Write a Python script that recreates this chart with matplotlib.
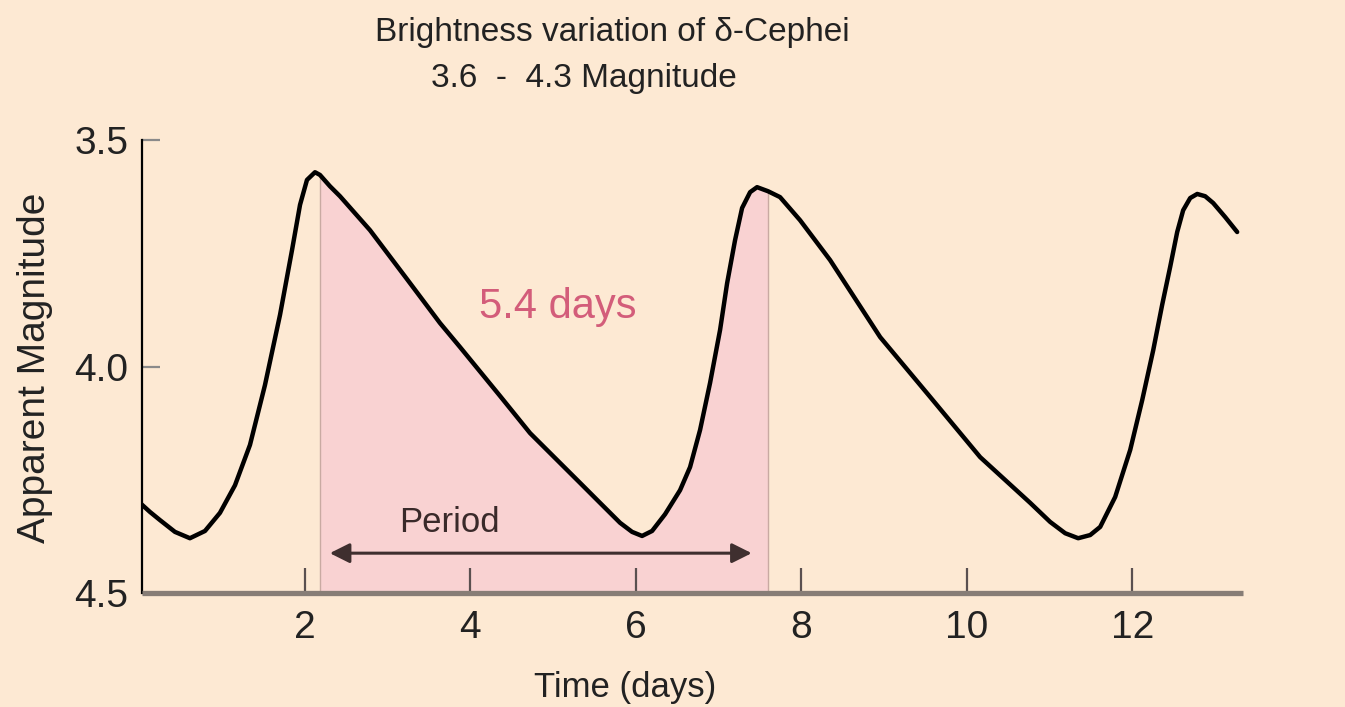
import numpy as np
import matplotlib
matplotlib.use("Agg")
import matplotlib.pyplot as plt

# ---- data ----
time_days = [0.005, 0.126, 0.247, 0.428, 0.609, 0.791, 0.972, 1.154, 1.335, 1.516,
             1.698, 1.843, 1.940, 2.024, 2.121, 2.181, 2.302, 2.423, 2.786, 3.233,
             3.632, 3.874, 4.358, 4.721, 5.326, 5.567, 5.809, 5.954, 6.075, 6.196,
             6.353, 6.534, 6.655, 6.776, 6.897, 7.018, 7.103, 7.199, 7.284, 7.381,
             7.465, 7.598, 7.743, 7.985, 8.348, 8.953, 9.557, 10.162, 10.767, 11.008,
             11.190, 11.347, 11.492, 11.613, 11.794, 11.976, 12.121, 12.254, 12.362,
             12.459, 12.544, 12.616, 12.701, 12.786, 12.882, 12.979, 13.124, 13.269]
magnitude = [4.301, 4.321, 4.339, 4.365, 4.379, 4.363, 4.323, 4.262, 4.173, 4.041,
             3.886, 3.743, 3.643, 3.588, 3.571, 3.577, 3.602, 3.624, 3.699, 3.807,
             3.904, 3.957, 4.065, 4.147, 4.257, 4.301, 4.345, 4.365, 4.374, 4.363,
             4.326, 4.273, 4.222, 4.140, 4.036, 3.919, 3.816, 3.721, 3.650, 3.615,
             3.604, 3.613, 3.626, 3.677, 3.765, 3.935, 4.067, 4.200, 4.301, 4.343,
             4.368, 4.379, 4.372, 4.354, 4.288, 4.184, 4.074, 3.964, 3.864,
             3.780, 3.703, 3.655, 3.628, 3.619, 3.624, 3.639, 3.670, 3.703]
period_start = 2.181
period_end = 7.598
arrow_start = 2.30
arrow_end = 7.40
arrow_level = 4.412
x_ticks = [2, 4, 6, 8, 10, 12]
x_tick_labels = ["2", "4", "6", "8", "10", "12"]
y_ticks = [3.5, 4.0, 4.5]
y_tick_labels = ["3.5", "4.0", "4.5"]
title_line1 = "Brightness variation of \u03b4-Cephei"
title_line2 = "3.6  -  4.3 Magnitude"
period_label = "Period"
period_value_label = "5.4 days"
x_label = "Time (days)"
y_label = "Apparent Magnitude"

bg = "#fde9d3"
pink = "#f9d2d2"
font = ["Liberation Sans", "DejaVu Sans"]

t = np.array(time_days)
m = np.array(magnitude)

fig = plt.figure(figsize=(13.45, 7.07), dpi=100, facecolor=bg)
ax = fig.add_axes([0.1056, 0.1612, 0.8186, 0.6407])
ax.set_facecolor(bg)

# shaded period
mask = (t >= period_start) & (t <= period_end)
ax.fill_between(t[mask], m[mask], 4.5, color=pink, lw=0, zorder=1)
ax.vlines([t[mask][0], t[mask][-1]], [m[mask][0], m[mask][-1]], 4.5,
          color="#c9aaa2", lw=1.0, zorder=2)

# light curve
ax.plot(t, m, color="black", lw=3.2, solid_joinstyle="round",
        solid_capstyle="round", zorder=4)

# period arrow
ax.annotate("", xy=(arrow_start, arrow_level), xytext=(arrow_end, arrow_level),
            arrowprops=dict(arrowstyle="<|-|>", color="#3f2f2f", lw=2.2,
                            mutation_scale=30, shrinkA=0, shrinkB=0), zorder=3)
ax.text(3.75, 4.345, period_label, fontsize=25, ha="center", va="center",
        color="#3a2a2a", family=font, zorder=5)
ax.text(5.06, 3.869, period_value_label, fontsize=30, ha="center", va="center",
        color="#d35d7a", family=font, zorder=5)

ax.set_xlim(0.03, 13.34)
ax.set_ylim(4.5, 3.5)

ax.set_xticks(x_ticks)
ax.set_xticklabels(x_tick_labels, family=font)
ax.set_yticks(y_ticks)
ax.set_yticklabels(y_tick_labels, family=font)
ax.tick_params(axis="x", direction="in", length=18, width=1.6, color="#5a5050",
               pad=12, labelsize=28, labelcolor="#222222")
ax.tick_params(axis="y", direction="in", length=13, width=1.6, color="#8a8a8a",
               pad=10, labelsize=28, labelcolor="#222222")

for s in ["top", "right"]:
    ax.spines[s].set_visible(False)
ax.spines["left"].set_color("black")
ax.spines["left"].set_linewidth(1.6)
ax.spines["bottom"].set_color("#877d76")
ax.spines["bottom"].set_linewidth(3.8)
ax.spines["bottom"].set_capstyle("butt")

fig.text(35 / 1345, 1 - 368 / 707, y_label, rotation=90, ha="center", va="center",
         fontsize=28, family=font, color="#222222")
fig.text(625 / 1345, 1 - 687 / 707, x_label, ha="center", va="center",
         fontsize=25, family=font, color="#222222")

fig.text(612 / 1345, 1 - 32 / 707, title_line1, ha="center", va="center",
         fontsize=24, family=font, color="#222222")
fig.text(584 / 1345, 1 - 78 / 707, title_line2, ha="center", va="center",
         fontsize=24, family=font, color="#222222")

fig.savefig("out.png", dpi=100, facecolor=bg)
